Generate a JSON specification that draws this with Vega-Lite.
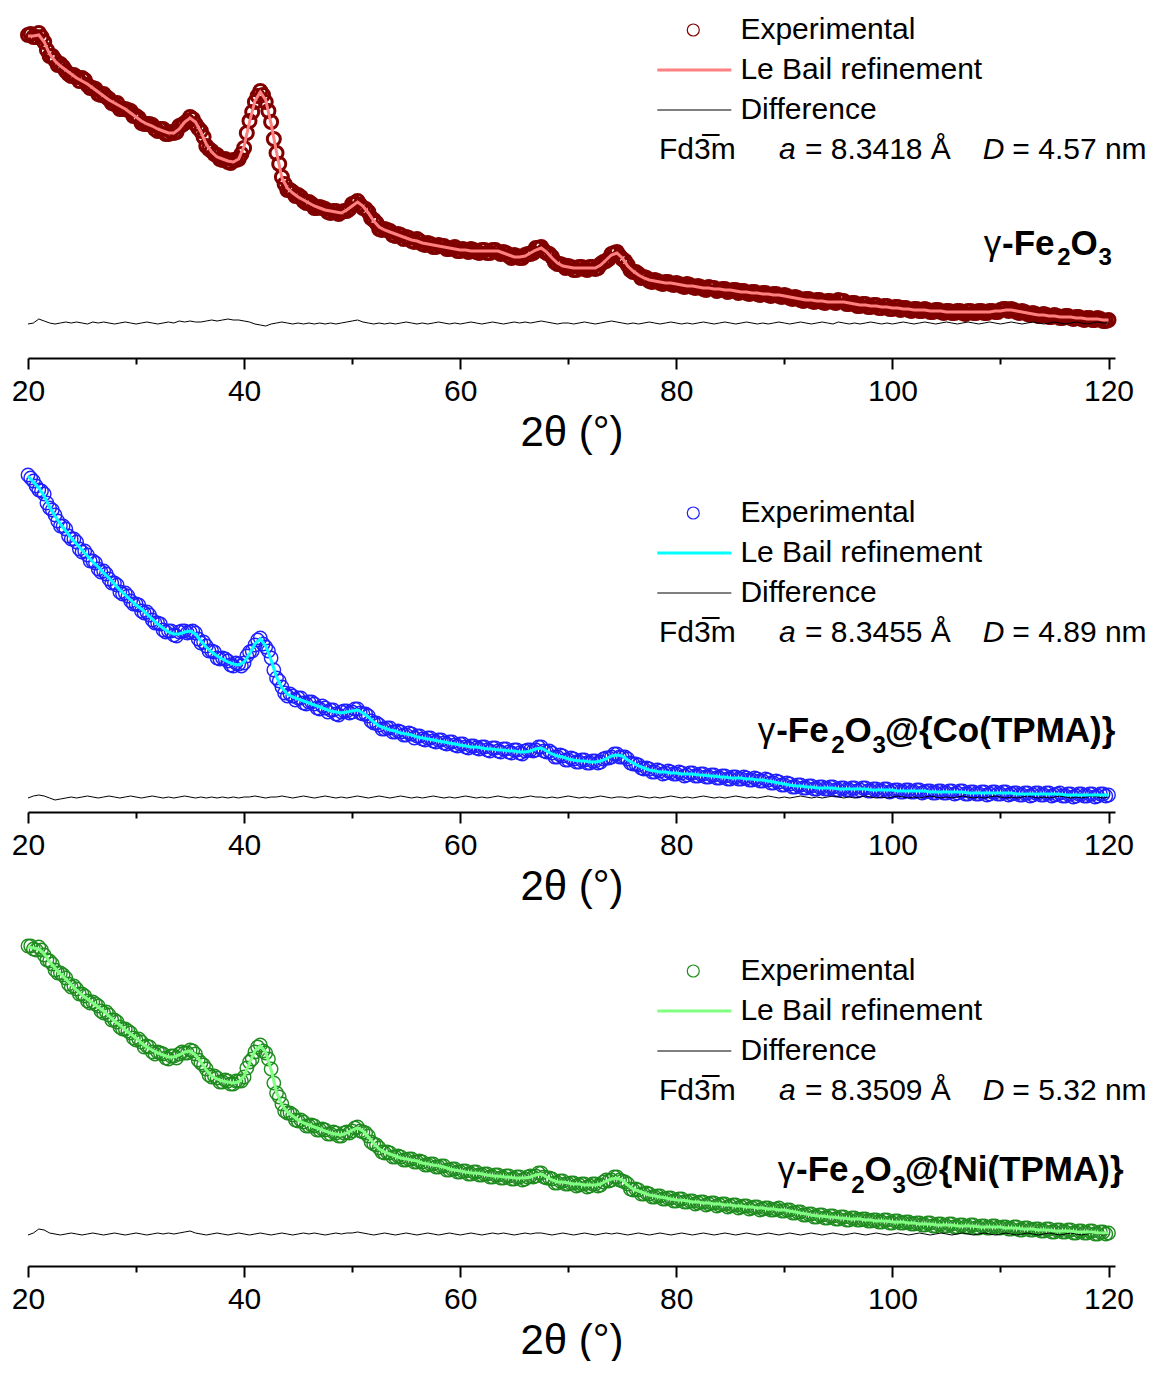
{
"$schema": "https://vega.github.io/schema/vega-lite/v6.json",
"background": "white",
"padding": {"left": 11, "top": 15, "right": 0, "bottom": 0},
"bounds": "flush",
"spacing": 116,
"config": {"view": {"stroke": null}, "font": "Liberation Sans"},
"resolve": {"scale": {"color": "independent", "y": "independent", "strokeWidth": "independent"}},
"datasets": {
"gamma": [
{"x":20,"obs":323,"calc":322,"diff":34},{"x":20.5,"obs":321,"calc":322,"diff":35},{"x":21,"obs":325,"calc":323,"diff":39},{"x":21.5,"obs":316,"calc":316,"diff":37},{"x":22,"obs":302,"calc":304,"diff":35},{"x":22.5,"obs":298,"calc":297,"diff":34},{"x":23,"obs":294,"calc":292,"diff":35},{"x":23.5,"obs":287,"calc":288,"diff":36},{"x":24,"obs":282,"calc":284,"diff":35},{"x":24.5,"obs":281,"calc":280,"diff":36},
{"x":25,"obs":280,"calc":277,"diff":35},{"x":25.5,"obs":273,"calc":274,"diff":34},{"x":26,"obs":270,"calc":270,"diff":36},{"x":26.5,"obs":264,"calc":266,"diff":35},{"x":27,"obs":264,"calc":262,"diff":36},{"x":27.5,"obs":259,"calc":258,"diff":35},{"x":28,"obs":254,"calc":255,"diff":34},{"x":28.5,"obs":249,"calc":252,"diff":35},{"x":29,"obs":249,"calc":249,"diff":36},{"x":29.5,"obs":247,"calc":245,"diff":35},
{"x":30,"obs":242,"calc":241,"diff":34},{"x":30.5,"obs":235,"calc":237,"diff":35},{"x":31,"obs":234,"calc":234,"diff":36},{"x":31.5,"obs":233,"calc":232,"diff":35},{"x":32,"obs":227,"calc":229,"diff":34},{"x":32.5,"obs":229,"calc":227,"diff":35},{"x":33,"obs":224,"calc":225,"diff":36},{"x":33.5,"obs":225,"calc":225,"diff":35},{"x":34,"obs":232,"calc":229,"diff":37},{"x":34.5,"obs":235,"calc":236,"diff":36},
{"x":35,"obs":241,"calc":240,"diff":37},{"x":35.5,"obs":234,"calc":236,"diff":36},{"x":36,"obs":227,"calc":226,"diff":36},{"x":36.5,"obs":212,"calc":214,"diff":37},{"x":37,"obs":207,"calc":206,"diff":38},{"x":37.5,"obs":203,"calc":201,"diff":37},{"x":38,"obs":198,"calc":199,"diff":38},{"x":38.5,"obs":196,"calc":197,"diff":39},{"x":39,"obs":198,"calc":196,"diff":38},{"x":39.5,"obs":199,"calc":199,"diff":38},
{"x":40,"obs":210,"calc":212,"diff":37},{"x":40.5,"obs":237,"calc":236,"diff":36},{"x":41,"obs":256,"calc":257,"diff":34},{"x":41.5,"obs":267,"calc":266,"diff":33},{"x":42,"obs":256,"calc":258,"diff":32},{"x":42.5,"obs":236,"calc":234,"diff":34},{"x":43,"obs":205,"calc":206,"diff":35},{"x":43.5,"obs":181,"calc":180,"diff":36},{"x":44,"obs":168,"calc":170,"diff":35},{"x":44.5,"obs":166,"calc":165,"diff":34},
{"x":45,"obs":163,"calc":161,"diff":35},{"x":45.5,"obs":157,"calc":158,"diff":34},{"x":46,"obs":156,"calc":155,"diff":35},{"x":46.5,"obs":150,"calc":152,"diff":34},{"x":47,"obs":151,"calc":150,"diff":35},{"x":47.5,"obs":149,"calc":148,"diff":34},{"x":48,"obs":145,"calc":147,"diff":35},{"x":48.5,"obs":147,"calc":146,"diff":34},{"x":49,"obs":146,"calc":145,"diff":35},{"x":49.5,"obs":147,"calc":148,"diff":36},
{"x":50,"obs":154,"calc":152,"diff":37},{"x":50.5,"obs":157,"calc":156,"diff":38},{"x":51,"obs":150,"calc":152,"diff":36},{"x":51.5,"obs":146,"calc":145,"diff":35},{"x":52,"obs":138,"calc":137,"diff":34},{"x":52.5,"obs":129,"calc":131,"diff":35},{"x":53,"obs":129,"calc":128,"diff":34},{"x":53.5,"obs":127,"calc":126,"diff":35},{"x":54,"obs":122,"calc":124,"diff":34},{"x":54.5,"obs":123,"calc":122,"diff":35},
{"x":55,"obs":121,"calc":120,"diff":36},{"x":55.5,"obs":117,"calc":118,"diff":35},{"x":56,"obs":119,"calc":117,"diff":34},{"x":56.5,"obs":114,"calc":115,"diff":35},{"x":57,"obs":115,"calc":114,"diff":34},{"x":57.5,"obs":111,"calc":113,"diff":35},{"x":58,"obs":113,"calc":112,"diff":36},{"x":58.5,"obs":112,"calc":111,"diff":35},{"x":59,"obs":109,"calc":110,"diff":34},{"x":59.5,"obs":111,"calc":109,"diff":35},
{"x":60,"obs":107,"calc":108,"diff":34},{"x":60.5,"obs":108,"calc":108,"diff":35},{"x":61,"obs":109,"calc":107,"diff":36},{"x":61.5,"obs":106,"calc":107,"diff":35},{"x":62,"obs":108,"calc":107,"diff":34},{"x":62.5,"obs":105,"calc":107,"diff":35},{"x":63,"obs":108,"calc":107,"diff":36},{"x":63.5,"obs":106,"calc":107,"diff":35},{"x":64,"obs":106,"calc":105,"diff":34},{"x":64.5,"obs":102,"calc":103,"diff":35},
{"x":65,"obs":103,"calc":101,"diff":36},{"x":65.5,"obs":100,"calc":101,"diff":35},{"x":66,"obs":103,"calc":102,"diff":36},{"x":66.5,"obs":104,"calc":105,"diff":35},{"x":67,"obs":110,"calc":108,"diff":36},{"x":67.5,"obs":111,"calc":110,"diff":37},{"x":68,"obs":105,"calc":106,"diff":36},{"x":68.5,"obs":101,"calc":100,"diff":35},{"x":69,"obs":94,"calc":95,"diff":34},{"x":69.5,"obs":93,"calc":92,"diff":35},
{"x":70,"obs":92,"calc":91,"diff":35},{"x":70.5,"obs":88,"calc":90,"diff":34},{"x":71,"obs":91,"calc":90,"diff":35},{"x":71.5,"obs":89,"calc":90,"diff":36},{"x":72,"obs":91,"calc":90,"diff":35},{"x":72.5,"obs":89,"calc":90,"diff":34},{"x":73,"obs":94,"calc":93,"diff":35},{"x":73.5,"obs":97,"calc":98,"diff":36},{"x":74,"obs":104,"calc":103,"diff":37},{"x":74.5,"obs":106,"calc":105,"diff":36},
{"x":75,"obs":99,"calc":100,"diff":35},{"x":75.5,"obs":93,"calc":92,"diff":34},{"x":76,"obs":86,"calc":87,"diff":35},{"x":76.5,"obs":84,"calc":83,"diff":34},{"x":77,"obs":81,"calc":80,"diff":35},{"x":77.5,"obs":77,"calc":78,"diff":36},{"x":78,"obs":78,"calc":77,"diff":35},{"x":78.5,"obs":75,"calc":76,"diff":34},{"x":79,"obs":76,"calc":75,"diff":35},{"x":79.5,"obs":74,"calc":75,"diff":36},
{"x":80,"obs":75,"calc":74,"diff":35},{"x":80.5,"obs":72,"calc":73,"diff":34},{"x":81,"obs":74,"calc":72,"diff":35},{"x":81.5,"obs":71,"calc":72,"diff":34},{"x":82,"obs":72,"calc":71,"diff":35},{"x":82.5,"obs":69,"calc":70,"diff":36},{"x":83,"obs":71,"calc":70,"diff":35},{"x":83.5,"obs":70,"calc":69,"diff":34},{"x":84,"obs":68,"calc":69,"diff":35},{"x":84.5,"obs":69,"calc":68,"diff":36},
{"x":85,"obs":67,"calc":68,"diff":35},{"x":85.5,"obs":68,"calc":67,"diff":34},{"x":86,"obs":67,"calc":66,"diff":35},{"x":86.5,"obs":65,"calc":66,"diff":36},{"x":87,"obs":66,"calc":65,"diff":35},{"x":87.5,"obs":64,"calc":65,"diff":34},{"x":88,"obs":65,"calc":64,"diff":35},{"x":88.5,"obs":63,"calc":64,"diff":34},{"x":89,"obs":64,"calc":63,"diff":35},{"x":89.5,"obs":62,"calc":63,"diff":36},
{"x":90,"obs":63,"calc":62,"diff":35},{"x":90.5,"obs":60,"calc":61,"diff":34},{"x":91,"obs":61,"calc":60,"diff":35},{"x":91.5,"obs":58,"calc":59,"diff":36},{"x":92,"obs":59,"calc":58,"diff":35},{"x":92.5,"obs":57,"calc":58,"diff":34},{"x":93,"obs":58,"calc":57,"diff":35},{"x":93.5,"obs":56,"calc":57,"diff":36},{"x":94,"obs":57,"calc":56,"diff":35},{"x":94.5,"obs":56,"calc":56,"diff":34},
{"x":95,"obs":58,"calc":56,"diff":36},{"x":95.5,"obs":57,"calc":56,"diff":35},{"x":96,"obs":54,"calc":55,"diff":34},{"x":96.5,"obs":55,"calc":54,"diff":35},{"x":97,"obs":52,"calc":53,"diff":34},{"x":97.5,"obs":54,"calc":53,"diff":35},{"x":98,"obs":51,"calc":52,"diff":36},{"x":98.5,"obs":53,"calc":52,"diff":35},{"x":99,"obs":50,"calc":51,"diff":34},{"x":99.5,"obs":52,"calc":51,"diff":35},
{"x":100,"obs":49,"calc":50,"diff":34},{"x":100.5,"obs":51,"calc":50,"diff":35},{"x":101,"obs":50,"calc":49,"diff":36},{"x":101.5,"obs":48,"calc":49,"diff":35},{"x":102,"obs":49,"calc":48,"diff":34},{"x":102.5,"obs":47,"calc":48,"diff":35},{"x":103,"obs":49,"calc":48,"diff":36},{"x":103.5,"obs":46,"calc":47,"diff":35},{"x":104,"obs":48,"calc":47,"diff":34},{"x":104.5,"obs":46,"calc":47,"diff":35},
{"x":105,"obs":47,"calc":46,"diff":36},{"x":105.5,"obs":45,"calc":46,"diff":35},{"x":106,"obs":47,"calc":46,"diff":34},{"x":106.5,"obs":45,"calc":46,"diff":35},{"x":107,"obs":47,"calc":46,"diff":36},{"x":107.5,"obs":45,"calc":46,"diff":35},{"x":108,"obs":47,"calc":46,"diff":34},{"x":108.5,"obs":45,"calc":46,"diff":35},{"x":109,"obs":47,"calc":46,"diff":36},{"x":109.5,"obs":46,"calc":47,"diff":35},
{"x":110,"obs":48,"calc":47,"diff":34},{"x":110.5,"obs":49,"calc":48,"diff":35},{"x":111,"obs":49,"calc":48,"diff":36},{"x":111.5,"obs":46,"calc":47,"diff":35},{"x":112,"obs":47,"calc":46,"diff":34},{"x":112.5,"obs":44,"calc":45,"diff":35},{"x":113,"obs":45,"calc":44,"diff":36},{"x":113.5,"obs":42,"calc":43,"diff":35},{"x":114,"obs":44,"calc":43,"diff":34},{"x":114.5,"obs":41,"calc":42,"diff":35},
{"x":115,"obs":43,"calc":42,"diff":36},{"x":115.5,"obs":40,"calc":41,"diff":35},{"x":116,"obs":42,"calc":41,"diff":34},{"x":116.5,"obs":40,"calc":41,"diff":35},{"x":117,"obs":41,"calc":40,"diff":36},{"x":117.5,"obs":39,"calc":40,"diff":35},{"x":118,"obs":40,"calc":39,"diff":34},{"x":118.5,"obs":38,"calc":39,"diff":35},{"x":119,"obs":40,"calc":39,"diff":36},{"x":119.5,"obs":37,"calc":38,"diff":35},
{"x":120,"obs":38,"calc":38,"diff":35}
],
"gamma_q": [
{"x":20.25,"obs":324},{"x":20.75,"obs":321},{"x":21.25,"obs":321},{"x":21.75,"obs":308},{"x":22.25,"obs":302},{"x":22.75,"obs":293},{"x":23.25,"obs":291},{"x":23.75,"obs":284},{"x":24.25,"obs":283},{"x":24.75,"obs":277},
{"x":25.25,"obs":278},{"x":25.75,"obs":270},{"x":26.25,"obs":269},{"x":26.75,"obs":263},{"x":27.25,"obs":261},{"x":27.75,"obs":255},{"x":28.25,"obs":255},{"x":28.75,"obs":249},{"x":29.25,"obs":248},{"x":29.75,"obs":242},
{"x":30.25,"obs":240},{"x":30.75,"obs":234},{"x":31.25,"obs":234},{"x":31.75,"obs":229},{"x":32.25,"obs":229},{"x":32.75,"obs":224},{"x":33.25,"obs":226},{"x":33.75,"obs":226},{"x":34.25,"obs":233},{"x":34.75,"obs":237},
{"x":35.25,"obs":239},{"x":35.75,"obs":230},{"x":36.25,"obs":221},{"x":36.75,"obs":209},{"x":37.25,"obs":204},{"x":37.75,"obs":199},{"x":38.25,"obs":199},{"x":38.75,"obs":195},{"x":39.25,"obs":198},{"x":39.75,"obs":204},
{"x":40.25,"obs":225},{"x":40.75,"obs":246},{"x":41.25,"obs":262},{"x":41.75,"obs":263},{"x":42.25,"obs":247},{"x":42.75,"obs":219},{"x":43.25,"obs":194},{"x":43.75,"obs":174},{"x":44.25,"obs":168},{"x":44.75,"obs":162},
{"x":45.25,"obs":161},{"x":45.75,"obs":155},{"x":46.25,"obs":154},{"x":46.75,"obs":150},{"x":47.25,"obs":150},{"x":47.75,"obs":146},{"x":48.25,"obs":147},{"x":48.75,"obs":144},{"x":49.25,"obs":147},{"x":49.75,"obs":149},
{"x":50.25,"obs":155},{"x":50.75,"obs":153},{"x":51.25,"obs":149},{"x":51.75,"obs":140},{"x":52.25,"obs":135},{"x":52.75,"obs":128},{"x":53.25,"obs":128},{"x":53.75,"obs":123},{"x":54.25,"obs":124},{"x":54.75,"obs":119},
{"x":55.25,"obs":120},{"x":55.75,"obs":116},{"x":56.25,"obs":117},{"x":56.75,"obs":113},{"x":57.25,"obs":114},{"x":57.75,"obs":111},{"x":58.25,"obs":112},{"x":58.75,"obs":109},{"x":59.25,"obs":110},{"x":59.75,"obs":107},
{"x":60.25,"obs":109},{"x":60.75,"obs":106},{"x":61.25,"obs":108},{"x":61.75,"obs":105},{"x":62.25,"obs":108},{"x":62.75,"obs":105},{"x":63.25,"obs":108},{"x":63.75,"obs":104},{"x":64.25,"obs":105},{"x":64.75,"obs":100},
{"x":65.25,"obs":102},{"x":65.75,"obs":100},{"x":66.25,"obs":104},{"x":66.75,"obs":105},{"x":67.25,"obs":110},{"x":67.75,"obs":107},{"x":68.25,"obs":104},{"x":68.75,"obs":96},{"x":69.25,"obs":94},{"x":69.75,"obs":90},
{"x":70.25,"obs":91},{"x":70.75,"obs":88},{"x":71.25,"obs":91},{"x":71.75,"obs":88},{"x":72.25,"obs":91},{"x":72.75,"obs":90},{"x":73.25,"obs":96},{"x":73.75,"obs":99},{"x":74.25,"obs":105},{"x":74.75,"obs":102},
{"x":75.25,"obs":97},{"x":75.75,"obs":88},{"x":76.25,"obs":86},{"x":76.75,"obs":80},{"x":77.25,"obs":80},{"x":77.75,"obs":76},{"x":78.25,"obs":77},{"x":78.75,"obs":74},{"x":79.25,"obs":76},{"x":79.75,"obs":73},
{"x":80.25,"obs":74},{"x":80.75,"obs":71},{"x":81.25,"obs":73},{"x":81.75,"obs":70},{"x":82.25,"obs":71},{"x":82.75,"obs":68},{"x":83.25,"obs":70},{"x":83.75,"obs":67},{"x":84.25,"obs":69},{"x":84.75,"obs":66},
{"x":85.25,"obs":68},{"x":85.75,"obs":65},{"x":86.25,"obs":67},{"x":86.75,"obs":64},{"x":87.25,"obs":66},{"x":87.75,"obs":63},{"x":88.25,"obs":65},{"x":88.75,"obs":62},{"x":89.25,"obs":64},{"x":89.75,"obs":61},
{"x":90.25,"obs":62},{"x":90.75,"obs":59},{"x":91.25,"obs":60},{"x":91.75,"obs":57},{"x":92.25,"obs":59},{"x":92.75,"obs":56},{"x":93.25,"obs":58},{"x":93.75,"obs":55},{"x":94.25,"obs":57},{"x":94.75,"obs":55},
{"x":95.25,"obs":57},{"x":95.75,"obs":54},{"x":96.25,"obs":55},{"x":96.75,"obs":52},{"x":97.25,"obs":54},{"x":97.75,"obs":51},{"x":98.25,"obs":53},{"x":98.75,"obs":50},{"x":99.25,"obs":52},{"x":99.75,"obs":49},
{"x":100.25,"obs":51},{"x":100.75,"obs":48},{"x":101.25,"obs":50},{"x":101.75,"obs":47},{"x":102.25,"obs":49},{"x":102.75,"obs":47},{"x":103.25,"obs":48},{"x":103.75,"obs":46},{"x":104.25,"obs":48},{"x":104.75,"obs":45},
{"x":105.25,"obs":47},{"x":105.75,"obs":45},{"x":106.25,"obs":47},{"x":106.75,"obs":44},{"x":107.25,"obs":47},{"x":107.75,"obs":45},{"x":108.25,"obs":47},{"x":108.75,"obs":45},{"x":109.25,"obs":47},{"x":109.75,"obs":46},
{"x":110.25,"obs":49},{"x":110.75,"obs":47},{"x":111.25,"obs":48},{"x":111.75,"obs":45},{"x":112.25,"obs":46},{"x":112.75,"obs":43},{"x":113.25,"obs":44},{"x":113.75,"obs":42},{"x":114.25,"obs":43},{"x":114.75,"obs":41},
{"x":115.25,"obs":42},{"x":115.75,"obs":40},{"x":116.25,"obs":42},{"x":116.75,"obs":39},{"x":117.25,"obs":41},{"x":117.75,"obs":38},{"x":118.25,"obs":40},{"x":118.75,"obs":38},{"x":119.25,"obs":39},{"x":119.75,"obs":37}
],
"co": [
{"x":20,"obs":337,"calc":336,"diff":14},{"x":20.5,"obs":331,"calc":330,"diff":16},{"x":21,"obs":322,"calc":324,"diff":17},{"x":21.5,"obs":318,"calc":316,"diff":16},{"x":22,"obs":304,"calc":305,"diff":14},{"x":22.5,"obs":297,"calc":296,"diff":12},{"x":23,"obs":286,"calc":288,"diff":13},{"x":23.5,"obs":283,"calc":281,"diff":14},{"x":24,"obs":273,"calc":274,"diff":15},{"x":24.5,"obs":270,"calc":268,"diff":14},
{"x":25,"obs":260,"calc":262,"diff":15},{"x":25.5,"obs":257,"calc":256,"diff":16},{"x":26,"obs":251,"calc":250,"diff":15},{"x":26.5,"obs":243,"calc":245,"diff":14},{"x":27,"obs":241,"calc":239,"diff":15},{"x":27.5,"obs":233,"calc":234,"diff":16},{"x":28,"obs":229,"calc":228,"diff":15},{"x":28.5,"obs":220,"calc":222,"diff":14},{"x":29,"obs":219,"calc":217,"diff":15},{"x":29.5,"obs":211,"calc":212,"diff":16},
{"x":30,"obs":208,"calc":207,"diff":15},{"x":30.5,"obs":201,"calc":203,"diff":14},{"x":31,"obs":200,"calc":198,"diff":15},{"x":31.5,"obs":192,"calc":193,"diff":16},{"x":32,"obs":189,"calc":188,"diff":15},{"x":32.5,"obs":182,"calc":184,"diff":14},{"x":33,"obs":181,"calc":180,"diff":15},{"x":33.5,"obs":177,"calc":178,"diff":14},{"x":34,"obs":180,"calc":178,"diff":15},{"x":34.5,"obs":181,"calc":180,"diff":16},
{"x":35,"obs":180,"calc":181,"diff":15},{"x":35.5,"obs":179,"calc":178,"diff":14},{"x":36,"obs":169,"calc":171,"diff":15},{"x":36.5,"obs":166,"calc":165,"diff":14},{"x":37,"obs":161,"calc":160,"diff":15},{"x":37.5,"obs":154,"calc":156,"diff":14},{"x":38,"obs":154,"calc":153,"diff":15},{"x":38.5,"obs":151,"calc":150,"diff":14},{"x":39,"obs":146,"calc":148,"diff":15},{"x":39.5,"obs":148,"calc":147,"diff":14},
{"x":40,"obs":149,"calc":150,"diff":15},{"x":40.5,"obs":160,"calc":158,"diff":15},{"x":41,"obs":167,"calc":168,"diff":16},{"x":41.5,"obs":174,"calc":173,"diff":15},{"x":42,"obs":165,"calc":166,"diff":14},{"x":42.5,"obs":154,"calc":152,"diff":15},{"x":43,"obs":134,"calc":135,"diff":15},{"x":43.5,"obs":125,"calc":124,"diff":16},{"x":44,"obs":116,"calc":118,"diff":15},{"x":44.5,"obs":116,"calc":115,"diff":14},
{"x":45,"obs":114,"calc":113,"diff":15},{"x":45.5,"obs":109,"calc":111,"diff":16},{"x":46,"obs":110,"calc":109,"diff":15},{"x":46.5,"obs":108,"calc":107,"diff":14},{"x":47,"obs":103,"calc":105,"diff":15},{"x":47.5,"obs":104,"calc":103,"diff":16},{"x":48,"obs":102,"calc":101,"diff":15},{"x":48.5,"obs":98,"calc":100,"diff":14},{"x":49,"obs":100,"calc":99,"diff":15},{"x":49.5,"obs":101,"calc":100,"diff":14},
{"x":50,"obs":100,"calc":101,"diff":15},{"x":50.5,"obs":103,"calc":102,"diff":16},{"x":51,"obs":98,"calc":99,"diff":15},{"x":51.5,"obs":96,"calc":95,"diff":14},{"x":52,"obs":89,"calc":90,"diff":15},{"x":52.5,"obs":87,"calc":86,"diff":16},{"x":53,"obs":83,"calc":84,"diff":15},{"x":53.5,"obs":84,"calc":82,"diff":14},{"x":54,"obs":80,"calc":81,"diff":15},{"x":54.5,"obs":80,"calc":79,"diff":16},
{"x":55,"obs":77,"calc":78,"diff":15},{"x":55.5,"obs":78,"calc":77,"diff":14},{"x":56,"obs":76,"calc":75,"diff":15},{"x":56.5,"obs":73,"calc":74,"diff":14},{"x":57,"obs":74,"calc":73,"diff":15},{"x":57.5,"obs":71,"calc":72,"diff":16},{"x":58,"obs":72,"calc":71,"diff":15},{"x":58.5,"obs":69,"calc":70,"diff":14},{"x":59,"obs":70,"calc":69,"diff":15},{"x":59.5,"obs":67,"calc":68,"diff":14},
{"x":60,"obs":68,"calc":67,"diff":15},{"x":60.5,"obs":65,"calc":66,"diff":16},{"x":61,"obs":66,"calc":65,"diff":15},{"x":61.5,"obs":64,"calc":65,"diff":14},{"x":62,"obs":65,"calc":64,"diff":15},{"x":62.5,"obs":62,"calc":63,"diff":14},{"x":63,"obs":64,"calc":63,"diff":15},{"x":63.5,"obs":61,"calc":62,"diff":16},{"x":64,"obs":63,"calc":62,"diff":15},{"x":64.5,"obs":60,"calc":61,"diff":14},
{"x":65,"obs":62,"calc":61,"diff":15},{"x":65.5,"obs":59,"calc":60,"diff":14},{"x":66,"obs":61,"calc":60,"diff":15},{"x":66.5,"obs":62,"calc":61,"diff":16},{"x":67,"obs":62,"calc":63,"diff":15},{"x":67.5,"obs":65,"calc":64,"diff":15},{"x":68,"obs":60,"calc":61,"diff":14},{"x":68.5,"obs":59,"calc":58,"diff":15},{"x":69,"obs":55,"calc":56,"diff":14},{"x":69.5,"obs":56,"calc":55,"diff":15},
{"x":70,"obs":52,"calc":53,"diff":16},{"x":70.5,"obs":53,"calc":52,"diff":15},{"x":71,"obs":50,"calc":51,"diff":14},{"x":71.5,"obs":52,"calc":51,"diff":15},{"x":72,"obs":49,"calc":50,"diff":14},{"x":72.5,"obs":51,"calc":50,"diff":15},{"x":73,"obs":50,"calc":51,"diff":16},{"x":73.5,"obs":54,"calc":53,"diff":15},{"x":74,"obs":55,"calc":56,"diff":14},{"x":74.5,"obs":58,"calc":57,"diff":15},
{"x":75,"obs":55,"calc":56,"diff":15},{"x":75.5,"obs":53,"calc":52,"diff":14},{"x":76,"obs":48,"calc":49,"diff":15},{"x":76.5,"obs":47,"calc":46,"diff":16},{"x":77,"obs":43,"calc":44,"diff":15},{"x":77.5,"obs":43,"calc":42,"diff":14},{"x":78,"obs":40,"calc":41,"diff":15},{"x":78.5,"obs":41,"calc":40,"diff":14},{"x":79,"obs":39,"calc":40,"diff":15},{"x":79.5,"obs":40,"calc":39,"diff":16},
{"x":80,"obs":38,"calc":39,"diff":15},{"x":80.5,"obs":39,"calc":38,"diff":14},{"x":81,"obs":37,"calc":38,"diff":15},{"x":81.5,"obs":39,"calc":38,"diff":14},{"x":82,"obs":36,"calc":37,"diff":15},{"x":82.5,"obs":38,"calc":37,"diff":16},{"x":83,"obs":35,"calc":36,"diff":15},{"x":83.5,"obs":37,"calc":36,"diff":14},{"x":84,"obs":34,"calc":35,"diff":15},{"x":84.5,"obs":36,"calc":35,"diff":14},
{"x":85,"obs":33,"calc":34,"diff":15},{"x":85.5,"obs":35,"calc":34,"diff":16},{"x":86,"obs":33,"calc":34,"diff":15},{"x":86.5,"obs":34,"calc":33,"diff":14},{"x":87,"obs":32,"calc":33,"diff":15},{"x":87.5,"obs":33,"calc":32,"diff":14},{"x":88,"obs":31,"calc":32,"diff":15},{"x":88.5,"obs":32,"calc":31,"diff":16},{"x":89,"obs":29,"calc":30,"diff":15},{"x":89.5,"obs":30,"calc":29,"diff":14},
{"x":90,"obs":27,"calc":28,"diff":15},{"x":90.5,"obs":28,"calc":27,"diff":14},{"x":91,"obs":25,"calc":26,"diff":15},{"x":91.5,"obs":27,"calc":26,"diff":16},{"x":92,"obs":24,"calc":25,"diff":15},{"x":92.5,"obs":26,"calc":25,"diff":14},{"x":93,"obs":23,"calc":24,"diff":15},{"x":93.5,"obs":25,"calc":24,"diff":14},{"x":94,"obs":23,"calc":24,"diff":15},{"x":94.5,"obs":25,"calc":24,"diff":16},
{"x":95,"obs":22,"calc":23,"diff":15},{"x":95.5,"obs":24,"calc":23,"diff":14},{"x":96,"obs":22,"calc":23,"diff":15},{"x":96.5,"obs":24,"calc":23,"diff":14},{"x":97,"obs":22,"calc":23,"diff":15},{"x":97.5,"obs":24,"calc":23,"diff":16},{"x":98,"obs":21,"calc":22,"diff":15},{"x":98.5,"obs":23,"calc":22,"diff":14},{"x":99,"obs":21,"calc":22,"diff":15},{"x":99.5,"obs":23,"calc":22,"diff":14},
{"x":100,"obs":21,"calc":22,"diff":15},{"x":100.5,"obs":22,"calc":21,"diff":16},{"x":101,"obs":20,"calc":21,"diff":15},{"x":101.5,"obs":22,"calc":21,"diff":14},{"x":102,"obs":20,"calc":21,"diff":15},{"x":102.5,"obs":22,"calc":21,"diff":14},{"x":103,"obs":20,"calc":21,"diff":15},{"x":103.5,"obs":21,"calc":20,"diff":16},{"x":104,"obs":19,"calc":20,"diff":15},{"x":104.5,"obs":21,"calc":20,"diff":14},
{"x":105,"obs":19,"calc":20,"diff":15},{"x":105.5,"obs":21,"calc":20,"diff":14},{"x":106,"obs":19,"calc":20,"diff":15},{"x":106.5,"obs":21,"calc":20,"diff":16},{"x":107,"obs":18,"calc":19,"diff":15},{"x":107.5,"obs":20,"calc":19,"diff":14},{"x":108,"obs":18,"calc":19,"diff":15},{"x":108.5,"obs":20,"calc":19,"diff":14},{"x":109,"obs":18,"calc":19,"diff":15},{"x":109.5,"obs":20,"calc":19,"diff":16},
{"x":110,"obs":18,"calc":19,"diff":15},{"x":110.5,"obs":20,"calc":19,"diff":14},{"x":111,"obs":18,"calc":19,"diff":15},{"x":111.5,"obs":19,"calc":18,"diff":14},{"x":112,"obs":17,"calc":18,"diff":15},{"x":112.5,"obs":19,"calc":18,"diff":16},{"x":113,"obs":17,"calc":18,"diff":15},{"x":113.5,"obs":19,"calc":18,"diff":14},{"x":114,"obs":17,"calc":18,"diff":15},{"x":114.5,"obs":19,"calc":18,"diff":14},
{"x":115,"obs":17,"calc":18,"diff":15},{"x":115.5,"obs":19,"calc":18,"diff":16},{"x":116,"obs":16,"calc":17,"diff":15},{"x":116.5,"obs":18,"calc":17,"diff":14},{"x":117,"obs":16,"calc":17,"diff":15},{"x":117.5,"obs":18,"calc":17,"diff":14},{"x":118,"obs":16,"calc":17,"diff":15},{"x":118.5,"obs":18,"calc":17,"diff":16},{"x":119,"obs":16,"calc":17,"diff":15},{"x":119.5,"obs":18,"calc":17,"diff":14},
{"x":120,"obs":17,"calc":17,"diff":15}
],
"co_q": [
{"x":20.25,"obs":334},{"x":20.75,"obs":326},{"x":21.25,"obs":321},{"x":21.75,"obs":309},{"x":22.25,"obs":302},{"x":22.75,"obs":291},{"x":23.25,"obs":286},{"x":23.75,"obs":276},{"x":24.25,"obs":273},{"x":24.75,"obs":263},
{"x":25.25,"obs":261},{"x":25.75,"obs":251},{"x":26.25,"obs":249},{"x":26.75,"obs":240},{"x":27.25,"obs":238},{"x":27.75,"obs":229},{"x":28.25,"obs":227},{"x":28.75,"obs":218},{"x":29.25,"obs":216},{"x":29.75,"obs":208},
{"x":30.25,"obs":207},{"x":30.75,"obs":199},{"x":31.25,"obs":197},{"x":31.75,"obs":189},{"x":32.25,"obs":188},{"x":32.75,"obs":180},{"x":33.25,"obs":181},{"x":33.75,"obs":176},{"x":34.25,"obs":181},{"x":34.75,"obs":179},
{"x":35.25,"obs":181},{"x":35.75,"obs":173},{"x":36.25,"obs":170},{"x":36.75,"obs":161},{"x":37.25,"obs":160},{"x":37.75,"obs":153},{"x":38.25,"obs":153},{"x":38.75,"obs":147},{"x":39.25,"obs":149},{"x":39.75,"obs":146},
{"x":40.25,"obs":156},{"x":40.75,"obs":161},{"x":41.25,"obs":172},{"x":41.75,"obs":168},{"x":42.25,"obs":161},{"x":42.75,"obs":142},{"x":43.25,"obs":131},{"x":43.75,"obs":119},{"x":44.25,"obs":118},{"x":44.75,"obs":112},
{"x":45.25,"obs":114},{"x":45.75,"obs":108},{"x":46.25,"obs":110},{"x":46.75,"obs":104},{"x":47.25,"obs":106},{"x":47.75,"obs":100},{"x":48.25,"obs":102},{"x":48.75,"obs":97},{"x":49.25,"obs":101},{"x":49.75,"obs":99},
{"x":50.25,"obs":103},{"x":50.75,"obs":99},{"x":51.25,"obs":98},{"x":51.75,"obs":91},{"x":52.25,"obs":89},{"x":52.75,"obs":83},{"x":53.25,"obs":84},{"x":53.75,"obs":80},{"x":54.25,"obs":81},{"x":54.75,"obs":77},
{"x":55.25,"obs":79},{"x":55.75,"obs":74},{"x":56.25,"obs":76},{"x":56.75,"obs":72},{"x":57.25,"obs":74},{"x":57.75,"obs":70},{"x":58.25,"obs":72},{"x":58.75,"obs":68},{"x":59.25,"obs":70},{"x":59.75,"obs":66},
{"x":60.25,"obs":68},{"x":60.75,"obs":64},{"x":61.25,"obs":66},{"x":61.75,"obs":63},{"x":62.25,"obs":65},{"x":62.75,"obs":61},{"x":63.25,"obs":64},{"x":63.75,"obs":60},{"x":64.25,"obs":63},{"x":64.75,"obs":59},
{"x":65.25,"obs":62},{"x":65.75,"obs":58},{"x":66.25,"obs":62},{"x":66.75,"obs":61},{"x":67.25,"obs":65},{"x":67.75,"obs":61},{"x":68.25,"obs":61},{"x":68.75,"obs":55},{"x":69.25,"obs":57},{"x":69.75,"obs":52},
{"x":70.25,"obs":54},{"x":70.75,"obs":50},{"x":71.25,"obs":52},{"x":71.75,"obs":49},{"x":72.25,"obs":51},{"x":72.75,"obs":49},{"x":73.25,"obs":53},{"x":73.75,"obs":54},{"x":74.25,"obs":58},{"x":74.75,"obs":55},
{"x":75.25,"obs":55},{"x":75.75,"obs":49},{"x":76.25,"obs":48},{"x":76.75,"obs":44},{"x":77.25,"obs":44},{"x":77.75,"obs":40},{"x":78.25,"obs":42},{"x":78.75,"obs":38},{"x":79.25,"obs":41},{"x":79.75,"obs":38},
{"x":80.25,"obs":40},{"x":80.75,"obs":36},{"x":81.25,"obs":39},{"x":81.75,"obs":36},{"x":82.25,"obs":38},{"x":82.75,"obs":35},{"x":83.25,"obs":37},{"x":83.75,"obs":34},{"x":84.25,"obs":36},{"x":84.75,"obs":33},
{"x":85.25,"obs":35},{"x":85.75,"obs":33},{"x":86.25,"obs":35},{"x":86.75,"obs":32},{"x":87.25,"obs":34},{"x":87.75,"obs":31},{"x":88.25,"obs":33},{"x":88.75,"obs":29},{"x":89.25,"obs":31},{"x":89.75,"obs":27},
{"x":90.25,"obs":29},{"x":90.75,"obs":25},{"x":91.25,"obs":27},{"x":91.75,"obs":24},{"x":92.25,"obs":26},{"x":92.75,"obs":23},{"x":93.25,"obs":25},{"x":93.75,"obs":23},{"x":94.25,"obs":25},{"x":94.75,"obs":22},
{"x":95.25,"obs":24},{"x":95.75,"obs":22},{"x":96.25,"obs":24},{"x":96.75,"obs":21},{"x":97.25,"obs":24},{"x":97.75,"obs":21},{"x":98.25,"obs":23},{"x":98.75,"obs":21},{"x":99.25,"obs":23},{"x":99.75,"obs":20},
{"x":100.25,"obs":22},{"x":100.75,"obs":20},{"x":101.25,"obs":22},{"x":101.75,"obs":20},{"x":102.25,"obs":22},{"x":102.75,"obs":19},{"x":103.25,"obs":21},{"x":103.75,"obs":19},{"x":104.25,"obs":21},{"x":104.75,"obs":19},
{"x":105.25,"obs":21},{"x":105.75,"obs":18},{"x":106.25,"obs":21},{"x":106.75,"obs":18},{"x":107.25,"obs":20},{"x":107.75,"obs":18},{"x":108.25,"obs":20},{"x":108.75,"obs":17},{"x":109.25,"obs":20},{"x":109.75,"obs":18},
{"x":110.25,"obs":20},{"x":110.75,"obs":17},{"x":111.25,"obs":19},{"x":111.75,"obs":17},{"x":112.25,"obs":19},{"x":112.75,"obs":16},{"x":113.25,"obs":19},{"x":113.75,"obs":17},{"x":114.25,"obs":19},{"x":114.75,"obs":16},
{"x":115.25,"obs":18},{"x":115.75,"obs":16},{"x":116.25,"obs":18},{"x":116.75,"obs":15},{"x":117.25,"obs":18},{"x":117.75,"obs":16},{"x":118.25,"obs":18},{"x":118.75,"obs":15},{"x":119.25,"obs":18},{"x":119.75,"obs":16}
],
"ni": [
{"x":20,"obs":320,"calc":319,"diff":31},{"x":20.5,"obs":317,"calc":318,"diff":33},{"x":21,"obs":319,"calc":317,"diff":37},{"x":21.5,"obs":311,"calc":312,"diff":36},{"x":22,"obs":305,"calc":304,"diff":33},{"x":22.5,"obs":296,"calc":298,"diff":32},{"x":23,"obs":293,"calc":292,"diff":31},{"x":23.5,"obs":288,"calc":287,"diff":32},{"x":24,"obs":279,"calc":281,"diff":33},{"x":24.5,"obs":277,"calc":276,"diff":32},
{"x":25,"obs":272,"calc":271,"diff":31},{"x":25.5,"obs":265,"calc":267,"diff":32},{"x":26,"obs":264,"calc":263,"diff":33},{"x":26.5,"obs":260,"calc":259,"diff":32},{"x":27,"obs":253,"calc":255,"diff":31},{"x":27.5,"obs":251,"calc":250,"diff":32},{"x":28,"obs":246,"calc":245,"diff":33},{"x":28.5,"obs":239,"calc":241,"diff":32},{"x":29,"obs":237,"calc":236,"diff":31},{"x":29.5,"obs":233,"calc":232,"diff":32},
{"x":30,"obs":226,"calc":228,"diff":33},{"x":30.5,"obs":224,"calc":223,"diff":32},{"x":31,"obs":220,"calc":219,"diff":31},{"x":31.5,"obs":214,"calc":216,"diff":32},{"x":32,"obs":214,"calc":213,"diff":33},{"x":32.5,"obs":212,"calc":211,"diff":32},{"x":33,"obs":207,"calc":209,"diff":33},{"x":33.5,"obs":210,"calc":209,"diff":32},{"x":34,"obs":212,"calc":211,"diff":33},{"x":34.5,"obs":213,"calc":214,"diff":34},
{"x":35,"obs":216,"calc":215,"diff":35},{"x":35.5,"obs":212,"calc":211,"diff":33},{"x":36,"obs":203,"calc":204,"diff":32},{"x":36.5,"obs":197,"calc":196,"diff":31},{"x":37,"obs":189,"calc":190,"diff":32},{"x":37.5,"obs":188,"calc":187,"diff":33},{"x":38,"obs":184,"calc":185,"diff":32},{"x":38.5,"obs":185,"calc":184,"diff":31},{"x":39,"obs":182,"calc":183,"diff":32},{"x":39.5,"obs":185,"calc":184,"diff":33},
{"x":40,"obs":189,"calc":190,"diff":32},{"x":40.5,"obs":204,"calc":203,"diff":31},{"x":41,"obs":214,"calc":215,"diff":32},{"x":41.5,"obs":221,"calc":220,"diff":33},{"x":42,"obs":213,"calc":214,"diff":32},{"x":42.5,"obs":197,"calc":196,"diff":31},{"x":43,"obs":173,"calc":174,"diff":32},{"x":43.5,"obs":162,"calc":161,"diff":33},{"x":44,"obs":153,"calc":154,"diff":32},{"x":44.5,"obs":151,"calc":150,"diff":31},
{"x":45,"obs":145,"calc":146,"diff":32},{"x":45.5,"obs":144,"calc":143,"diff":33},{"x":46,"obs":140,"calc":141,"diff":32},{"x":46.5,"obs":140,"calc":139,"diff":33},{"x":47,"obs":136,"calc":137,"diff":32},{"x":47.5,"obs":136,"calc":135,"diff":31},{"x":48,"obs":132,"calc":133,"diff":32},{"x":48.5,"obs":133,"calc":132,"diff":33},{"x":49,"obs":130,"calc":131,"diff":32},{"x":49.5,"obs":134,"calc":133,"diff":33},
{"x":50,"obs":135,"calc":136,"diff":33},{"x":50.5,"obs":139,"calc":138,"diff":34},{"x":51,"obs":134,"calc":135,"diff":33},{"x":51.5,"obs":130,"calc":129,"diff":32},{"x":52,"obs":122,"calc":123,"diff":31},{"x":52.5,"obs":118,"calc":117,"diff":32},{"x":53,"obs":113,"calc":114,"diff":33},{"x":53.5,"obs":113,"calc":112,"diff":32},{"x":54,"obs":109,"calc":110,"diff":31},{"x":54.5,"obs":109,"calc":108,"diff":32},
{"x":55,"obs":106,"calc":107,"diff":33},{"x":55.5,"obs":107,"calc":106,"diff":32},{"x":56,"obs":104,"calc":105,"diff":31},{"x":56.5,"obs":104,"calc":103,"diff":32},{"x":57,"obs":101,"calc":102,"diff":33},{"x":57.5,"obs":102,"calc":101,"diff":32},{"x":58,"obs":99,"calc":100,"diff":31},{"x":58.5,"obs":100,"calc":99,"diff":32},{"x":59,"obs":96,"calc":97,"diff":33},{"x":59.5,"obs":97,"calc":96,"diff":32},
{"x":60,"obs":94,"calc":95,"diff":31},{"x":60.5,"obs":95,"calc":94,"diff":32},{"x":61,"obs":92,"calc":93,"diff":33},{"x":61.5,"obs":94,"calc":93,"diff":32},{"x":62,"obs":91,"calc":92,"diff":31},{"x":62.5,"obs":92,"calc":91,"diff":32},{"x":63,"obs":89,"calc":90,"diff":33},{"x":63.5,"obs":91,"calc":90,"diff":32},{"x":64,"obs":88,"calc":89,"diff":33},{"x":64.5,"obs":90,"calc":89,"diff":32},
{"x":65,"obs":87,"calc":88,"diff":31},{"x":65.5,"obs":89,"calc":88,"diff":32},{"x":66,"obs":87,"calc":88,"diff":33},{"x":66.5,"obs":90,"calc":89,"diff":32},{"x":67,"obs":90,"calc":91,"diff":33},{"x":67.5,"obs":93,"calc":92,"diff":33},{"x":68,"obs":88,"calc":89,"diff":32},{"x":68.5,"obs":87,"calc":86,"diff":31},{"x":69,"obs":83,"calc":84,"diff":32},{"x":69.5,"obs":85,"calc":84,"diff":33},
{"x":70,"obs":82,"calc":83,"diff":32},{"x":70.5,"obs":83,"calc":82,"diff":31},{"x":71,"obs":81,"calc":82,"diff":32},{"x":71.5,"obs":82,"calc":81,"diff":33},{"x":72,"obs":80,"calc":81,"diff":32},{"x":72.5,"obs":82,"calc":81,"diff":31},{"x":73,"obs":81,"calc":82,"diff":32},{"x":73.5,"obs":86,"calc":85,"diff":33},{"x":74,"obs":86,"calc":87,"diff":32},{"x":74.5,"obs":89,"calc":88,"diff":33},
{"x":75,"obs":85,"calc":86,"diff":32},{"x":75.5,"obs":82,"calc":81,"diff":31},{"x":76,"obs":76,"calc":77,"diff":32},{"x":76.5,"obs":76,"calc":75,"diff":33},{"x":77,"obs":72,"calc":73,"diff":32},{"x":77.5,"obs":72,"calc":71,"diff":31},{"x":78,"obs":69,"calc":70,"diff":32},{"x":78.5,"obs":70,"calc":69,"diff":33},{"x":79,"obs":67,"calc":68,"diff":32},{"x":79.5,"obs":68,"calc":67,"diff":31},
{"x":80,"obs":65,"calc":66,"diff":32},{"x":80.5,"obs":67,"calc":66,"diff":33},{"x":81,"obs":64,"calc":65,"diff":32},{"x":81.5,"obs":65,"calc":64,"diff":31},{"x":82,"obs":63,"calc":64,"diff":32},{"x":82.5,"obs":64,"calc":63,"diff":33},{"x":83,"obs":62,"calc":63,"diff":32},{"x":83.5,"obs":63,"calc":62,"diff":31},{"x":84,"obs":61,"calc":62,"diff":32},{"x":84.5,"obs":62,"calc":61,"diff":33},
{"x":85,"obs":60,"calc":61,"diff":32},{"x":85.5,"obs":61,"calc":60,"diff":31},{"x":86,"obs":59,"calc":60,"diff":32},{"x":86.5,"obs":60,"calc":59,"diff":33},{"x":87,"obs":58,"calc":59,"diff":32},{"x":87.5,"obs":59,"calc":58,"diff":31},{"x":88,"obs":57,"calc":58,"diff":32},{"x":88.5,"obs":58,"calc":57,"diff":33},{"x":89,"obs":56,"calc":57,"diff":32},{"x":89.5,"obs":58,"calc":56,"diff":31},
{"x":90,"obs":55,"calc":56,"diff":32},{"x":90.5,"obs":56,"calc":55,"diff":33},{"x":91,"obs":53,"calc":54,"diff":32},{"x":91.5,"obs":54,"calc":53,"diff":31},{"x":92,"obs":51,"calc":52,"diff":32},{"x":92.5,"obs":52,"calc":51,"diff":33},{"x":93,"obs":49,"calc":50,"diff":32},{"x":93.5,"obs":51,"calc":50,"diff":31},{"x":94,"obs":48,"calc":49,"diff":32},{"x":94.5,"obs":50,"calc":49,"diff":33},
{"x":95,"obs":47,"calc":48,"diff":32},{"x":95.5,"obs":49,"calc":48,"diff":31},{"x":96,"obs":46,"calc":47,"diff":32},{"x":96.5,"obs":48,"calc":47,"diff":33},{"x":97,"obs":46,"calc":47,"diff":32},{"x":97.5,"obs":47,"calc":46,"diff":31},{"x":98,"obs":45,"calc":46,"diff":32},{"x":98.5,"obs":46,"calc":45,"diff":33},{"x":99,"obs":44,"calc":45,"diff":32},{"x":99.5,"obs":46,"calc":45,"diff":31},
{"x":100,"obs":43,"calc":44,"diff":32},{"x":100.5,"obs":45,"calc":44,"diff":33},{"x":101,"obs":43,"calc":44,"diff":32},{"x":101.5,"obs":44,"calc":43,"diff":31},{"x":102,"obs":42,"calc":43,"diff":32},{"x":102.5,"obs":43,"calc":42,"diff":33},{"x":103,"obs":41,"calc":42,"diff":32},{"x":103.5,"obs":43,"calc":42,"diff":31},{"x":104,"obs":40,"calc":41,"diff":32},{"x":104.5,"obs":42,"calc":41,"diff":33},
{"x":105,"obs":40,"calc":41,"diff":32},{"x":105.5,"obs":42,"calc":41,"diff":31},{"x":106,"obs":39,"calc":40,"diff":32},{"x":106.5,"obs":41,"calc":40,"diff":33},{"x":107,"obs":39,"calc":40,"diff":32},{"x":107.5,"obs":41,"calc":40,"diff":31},{"x":108,"obs":38,"calc":39,"diff":32},{"x":108.5,"obs":40,"calc":39,"diff":33},{"x":109,"obs":38,"calc":39,"diff":32},{"x":109.5,"obs":40,"calc":39,"diff":31},
{"x":110,"obs":38,"calc":39,"diff":32},{"x":110.5,"obs":39,"calc":38,"diff":33},{"x":111,"obs":37,"calc":38,"diff":32},{"x":111.5,"obs":39,"calc":38,"diff":31},{"x":112,"obs":36,"calc":37,"diff":32},{"x":112.5,"obs":38,"calc":37,"diff":33},{"x":113,"obs":36,"calc":37,"diff":32},{"x":113.5,"obs":37,"calc":36,"diff":31},{"x":114,"obs":35,"calc":36,"diff":32},{"x":114.5,"obs":37,"calc":36,"diff":33},
{"x":115,"obs":34,"calc":35,"diff":32},{"x":115.5,"obs":36,"calc":35,"diff":31},{"x":116,"obs":34,"calc":35,"diff":32},{"x":116.5,"obs":36,"calc":35,"diff":33},{"x":117,"obs":33,"calc":34,"diff":32},{"x":117.5,"obs":35,"calc":34,"diff":31},{"x":118,"obs":33,"calc":34,"diff":32},{"x":118.5,"obs":35,"calc":34,"diff":33},{"x":119,"obs":32,"calc":33,"diff":32},{"x":119.5,"obs":34,"calc":33,"diff":31},
{"x":120,"obs":33,"calc":33,"diff":32}
],
"ni_q": [
{"x":20.25,"obs":320},{"x":20.75,"obs":316},{"x":21.25,"obs":316},{"x":21.75,"obs":306},{"x":22.25,"obs":302},{"x":22.75,"obs":293},{"x":23.25,"obs":291},{"x":23.75,"obs":282},{"x":24.25,"obs":280},{"x":24.75,"obs":272},
{"x":25.25,"obs":270},{"x":25.75,"obs":263},{"x":26.25,"obs":262},{"x":26.75,"obs":255},{"x":27.25,"obs":254},{"x":27.75,"obs":246},{"x":28.25,"obs":244},{"x":28.75,"obs":237},{"x":29.25,"obs":235},{"x":29.75,"obs":228},
{"x":30.25,"obs":227},{"x":30.75,"obs":219},{"x":31.25,"obs":219},{"x":31.75,"obs":212},{"x":32.25,"obs":213},{"x":32.75,"obs":208},{"x":33.25,"obs":210},{"x":33.75,"obs":208},{"x":34.25,"obs":214},{"x":34.75,"obs":213},
{"x":35.25,"obs":215},{"x":35.75,"obs":206},{"x":36.25,"obs":201},{"x":36.75,"obs":191},{"x":37.25,"obs":190},{"x":37.75,"obs":184},{"x":38.25,"obs":186},{"x":38.75,"obs":182},{"x":39.25,"obs":185},{"x":39.75,"obs":185},
{"x":40.25,"obs":198},{"x":40.75,"obs":207},{"x":41.25,"obs":219},{"x":41.75,"obs":215},{"x":42.25,"obs":207},{"x":42.75,"obs":183},{"x":43.25,"obs":169},{"x":43.75,"obs":155},{"x":44.25,"obs":153},{"x":44.75,"obs":146},
{"x":45.25,"obs":146},{"x":45.75,"obs":140},{"x":46.25,"obs":141},{"x":46.75,"obs":136},{"x":47.25,"obs":137},{"x":47.75,"obs":132},{"x":48.25,"obs":134},{"x":48.75,"obs":130},{"x":49.25,"obs":133},{"x":49.75,"obs":133},
{"x":50.25,"obs":138},{"x":50.75,"obs":135},{"x":51.25,"obs":133},{"x":51.75,"obs":124},{"x":52.25,"obs":121},{"x":52.75,"obs":114},{"x":53.25,"obs":114},{"x":53.75,"obs":109},{"x":54.25,"obs":110},{"x":54.75,"obs":106},
{"x":55.25,"obs":107},{"x":55.75,"obs":104},{"x":56.25,"obs":105},{"x":56.75,"obs":101},{"x":57.25,"obs":102},{"x":57.75,"obs":99},{"x":58.25,"obs":100},{"x":58.75,"obs":96},{"x":59.25,"obs":97},{"x":59.75,"obs":94},
{"x":60.25,"obs":95},{"x":60.75,"obs":92},{"x":61.25,"obs":94},{"x":61.75,"obs":91},{"x":62.25,"obs":92},{"x":62.75,"obs":89},{"x":63.25,"obs":91},{"x":63.75,"obs":88},{"x":64.25,"obs":90},{"x":64.75,"obs":87},
{"x":65.25,"obs":89},{"x":65.75,"obs":86},{"x":66.25,"obs":89},{"x":66.75,"obs":89},{"x":67.25,"obs":93},{"x":67.75,"obs":89},{"x":68.25,"obs":88},{"x":68.75,"obs":83},{"x":69.25,"obs":85},{"x":69.75,"obs":82},
{"x":70.25,"obs":83},{"x":70.75,"obs":80},{"x":71.25,"obs":82},{"x":71.75,"obs":79},{"x":72.25,"obs":82},{"x":72.75,"obs":80},{"x":73.25,"obs":84},{"x":73.75,"obs":85},{"x":74.25,"obs":89},{"x":74.75,"obs":86},
{"x":75.25,"obs":84},{"x":75.75,"obs":77},{"x":76.25,"obs":77},{"x":76.75,"obs":72},{"x":77.25,"obs":73},{"x":77.75,"obs":69},{"x":78.25,"obs":70},{"x":78.75,"obs":67},{"x":79.25,"obs":68},{"x":79.75,"obs":65},
{"x":80.25,"obs":67},{"x":80.75,"obs":64},{"x":81.25,"obs":65},{"x":81.75,"obs":62},{"x":82.25,"obs":64},{"x":82.75,"obs":61},{"x":83.25,"obs":63},{"x":83.75,"obs":60},{"x":84.25,"obs":62},{"x":84.75,"obs":59},
{"x":85.25,"obs":61},{"x":85.75,"obs":58},{"x":86.25,"obs":60},{"x":86.75,"obs":57},{"x":87.25,"obs":59},{"x":87.75,"obs":56},{"x":88.25,"obs":58},{"x":88.75,"obs":56},{"x":89.25,"obs":57},{"x":89.75,"obs":55},
{"x":90.25,"obs":56},{"x":90.75,"obs":53},{"x":91.25,"obs":54},{"x":91.75,"obs":51},{"x":92.25,"obs":52},{"x":92.75,"obs":49},{"x":93.25,"obs":51},{"x":93.75,"obs":48},{"x":94.25,"obs":50},{"x":94.75,"obs":47},
{"x":95.25,"obs":49},{"x":95.75,"obs":46},{"x":96.25,"obs":48},{"x":96.75,"obs":46},{"x":97.25,"obs":47},{"x":97.75,"obs":45},{"x":98.25,"obs":46},{"x":98.75,"obs":44},{"x":99.25,"obs":46},{"x":99.75,"obs":43},
{"x":100.25,"obs":45},{"x":100.75,"obs":43},{"x":101.25,"obs":44},{"x":101.75,"obs":42},{"x":102.25,"obs":43},{"x":102.75,"obs":41},{"x":103.25,"obs":43},{"x":103.75,"obs":40},{"x":104.25,"obs":42},{"x":104.75,"obs":40},
{"x":105.25,"obs":42},{"x":105.75,"obs":39},{"x":106.25,"obs":41},{"x":106.75,"obs":39},{"x":107.25,"obs":41},{"x":107.75,"obs":38},{"x":108.25,"obs":40},{"x":108.75,"obs":38},{"x":109.25,"obs":40},{"x":109.75,"obs":38},
{"x":110.25,"obs":39},{"x":110.75,"obs":37},{"x":111.25,"obs":39},{"x":111.75,"obs":36},{"x":112.25,"obs":38},{"x":112.75,"obs":36},{"x":113.25,"obs":37},{"x":113.75,"obs":35},{"x":114.25,"obs":37},{"x":114.75,"obs":34},
{"x":115.25,"obs":36},{"x":115.75,"obs":34},{"x":116.25,"obs":36},{"x":116.75,"obs":33},{"x":117.25,"obs":35},{"x":117.75,"obs":33},{"x":118.25,"obs":35},{"x":118.75,"obs":32},{"x":119.25,"obs":34},{"x":119.75,"obs":32}
],
"key": [
{"panel":1,"series":"Experimental","x":81.57,"y":328},
{"panel":1,"series":"Le Bail refinement","x":78.24,"x2":85.09,"y":288},
{"panel":1,"series":"Difference","x":78.24,"x2":85.09,"y":248},
{"panel":2,"series":"Experimental","x":81.57,"y":299},
{"panel":2,"series":"Le Bail refinement","x":78.24,"x2":85.09,"y":259},
{"panel":2,"series":"Difference","x":78.24,"x2":85.09,"y":219},
{"panel":3,"series":"Experimental","x":81.57,"y":295},
{"panel":3,"series":"Le Bail refinement","x":78.24,"x2":85.09,"y":255},
{"panel":3,"series":"Difference","x":78.24,"x2":85.09,"y":215}
],
"labels": [
{"panel":1,"role":"plain","text":"Experimental","x":85.93,"y":328},
{"panel":1,"role":"plain","text":"Le Bail refinement","x":85.93,"y":288},
{"panel":1,"role":"plain","text":"Difference","x":85.93,"y":248},
{"panel":1,"role":"plain","text":"Fd3\u0305m","x":78.4,"y":208},
{"panel":1,"role":"italic","text":"a","x":89.5,"y":208},
{"panel":1,"role":"plain","text":"= 8.3418 Å","x":91.9,"y":208},
{"panel":1,"role":"italic","text":"D","x":108.35,"y":208},
{"panel":1,"role":"plain","text":"= 4.57 nm","x":111.1,"y":208},
{"panel":1,"role":"gamma","text":"γ","x":108.45,"y":114},
{"panel":1,"role":"bold","text":"-Fe","x":110.15,"y":114},
{"panel":1,"role":"sub","text":"2","x":115.25,"y":100},
{"panel":1,"role":"bold","text":"O","x":116.48,"y":114},
{"panel":1,"role":"sub","text":"3","x":119.07,"y":100},
{"panel":2,"role":"plain","text":"Experimental","x":85.93,"y":299},
{"panel":2,"role":"plain","text":"Le Bail refinement","x":85.93,"y":259},
{"panel":2,"role":"plain","text":"Difference","x":85.93,"y":219},
{"panel":2,"role":"plain","text":"Fd3\u0305m","x":78.4,"y":179},
{"panel":2,"role":"italic","text":"a","x":89.5,"y":179},
{"panel":2,"role":"plain","text":"= 8.3455 Å","x":91.9,"y":179},
{"panel":2,"role":"italic","text":"D","x":108.35,"y":179},
{"panel":2,"role":"plain","text":"= 4.89 nm","x":111.1,"y":179},
{"panel":2,"role":"gamma","text":"γ","x":87.54,"y":81},
{"panel":2,"role":"bold","text":"-Fe","x":89.24,"y":81},
{"panel":2,"role":"sub","text":"2","x":94.34,"y":66},
{"panel":2,"role":"bold","text":"O","x":95.57,"y":81},
{"panel":2,"role":"sub","text":"3","x":98.16,"y":66},
{"panel":2,"role":"bold","text":"@{Co(TPMA)}","x":99.3,"y":81},
{"panel":3,"role":"plain","text":"Experimental","x":85.93,"y":295},
{"panel":3,"role":"plain","text":"Le Bail refinement","x":85.93,"y":255},
{"panel":3,"role":"plain","text":"Difference","x":85.93,"y":215},
{"panel":3,"role":"plain","text":"Fd3\u0305m","x":78.4,"y":175},
{"panel":3,"role":"italic","text":"a","x":89.5,"y":175},
{"panel":3,"role":"plain","text":"= 8.3509 Å","x":91.9,"y":175},
{"panel":3,"role":"italic","text":"D","x":108.35,"y":175},
{"panel":3,"role":"plain","text":"= 5.32 nm","x":111.1,"y":175},
{"panel":3,"role":"gamma","text":"γ","x":89.38,"y":96},
{"panel":3,"role":"bold","text":"-Fe","x":91.08,"y":96},
{"panel":3,"role":"sub","text":"2","x":96.18,"y":80},
{"panel":3,"role":"bold","text":"O","x":97.41,"y":96},
{"panel":3,"role":"sub","text":"3","x":100.0,"y":80},
{"panel":3,"role":"bold","text":"@{Ni(TPMA)}","x":101.14,"y":96}
]
},
"vconcat": [
{
"width": 1087, "height": 338,
"encoding": {"x": {"field": "x", "type": "quantitative", "scale": {"domain": [20, 120.6], "nice": false, "zero": false},
 "axis": {"values": [20,30,40,50,60,70,80,90,100,110,120], "labelExpr": "datum.value % 20 === 0 ? datum.label : ''", "tickSize": {"condition": {"test": "datum.value % 20 === 0", "value": 11}, "value": 6}, "tickWidth": 2, "domainWidth": 2, "domainColor": "black", "tickColor": "black", "labelFontSize": 30, "labelFont": "Liberation Sans", "labelColor": "black", "labelPadding": 7, "labelFlush": false, "labelOverlap": false, "title": "2θ (°)", "titleFontSize": 42, "titleFontWeight": "normal", "titleFont": "Liberation Sans", "titleColor": "black", "titlePadding": 6, "grid": false}}},
"layer": [
{"data": {"name": "gamma"}, "mark": {"type": "point", "filled": false, "size": 170, "strokeWidth": 3, "opacity": 1},
 "encoding": {"y": {"field": "obs", "type": "quantitative", "scale": {"domain": [0, 338], "nice": false}, "axis": null},
  "color": {"datum": "Experimental", "type": "nominal", "scale": {"domain": ["Experimental", "Le Bail refinement", "Difference"], "range": ["#800000", "#FF8080", "#000000"]}, "legend": null}}},
{"data": {"name": "gamma_q"}, "mark": {"type": "point", "filled": false, "size": 170, "strokeWidth": 3, "opacity": 1},
 "encoding": {"y": {"field": "obs", "type": "quantitative", "axis": null}, "color": {"datum": "Experimental", "type": "nominal", "legend": null}}},
{"data": {"name": "gamma"}, "mark": {"type": "line", "strokeWidth": 1},
 "encoding": {"y": {"field": "diff", "type": "quantitative", "axis": null}, "color": {"datum": "Difference", "type": "nominal", "legend": null}}},
{"data": {"name": "gamma"}, "mark": {"type": "line", "strokeWidth": 3},
 "encoding": {"y": {"field": "calc", "type": "quantitative", "axis": null}, "color": {"datum": "Le Bail refinement", "type": "nominal", "legend": null}}},
{"data": {"name": "key"}, "transform": [{"filter": "datum.panel === 1 && datum.series === 'Experimental'"}], "mark": {"type": "point", "filled": false, "size": 144, "strokeWidth": 1.2, "opacity": 1},
 "encoding": {"y": {"field": "y", "type": "quantitative", "axis": null}, "color": {"field": "series", "type": "nominal", "legend": null}}},
{"data": {"name": "key"}, "transform": [{"filter": "datum.panel === 1 && datum.series !== 'Experimental'"}], "mark": {"type": "rule"},
 "encoding": {"x2": {"field": "x2"}, "y": {"field": "y", "type": "quantitative", "axis": null}, "color": {"field": "series", "type": "nominal", "legend": null}, "strokeWidth": {"field": "series", "type": "nominal", "scale": {"domain": ["Le Bail refinement", "Difference"], "range": [3, 1.2]}, "legend": null}}},
{"data": {"name": "labels"}, "transform": [{"filter": "datum.panel === 1 && datum.role === 'plain'"}], "mark": {"type": "text", "align": "left", "baseline": "middle", "font": "Liberation Sans", "fontSize": 30, "color": "black"}, "encoding": {"y": {"field": "y", "type": "quantitative", "axis": null}, "text": {"field": "text"}}},
{"data": {"name": "labels"}, "transform": [{"filter": "datum.panel === 1 && datum.role === 'italic'"}], "mark": {"type": "text", "align": "left", "baseline": "middle", "font": "Liberation Sans", "fontSize": 30, "fontStyle": "italic", "color": "black"}, "encoding": {"y": {"field": "y", "type": "quantitative", "axis": null}, "text": {"field": "text"}}},
{"data": {"name": "labels"}, "transform": [{"filter": "datum.panel === 1 && datum.role === 'gamma'"}], "mark": {"type": "text", "align": "left", "baseline": "middle", "font": "Liberation Sans", "fontSize": 35, "color": "black"}, "encoding": {"y": {"field": "y", "type": "quantitative", "axis": null}, "text": {"field": "text"}}},
{"data": {"name": "labels"}, "transform": [{"filter": "datum.panel === 1 && datum.role === 'bold'"}], "mark": {"type": "text", "align": "left", "baseline": "middle", "font": "Liberation Sans", "fontSize": 35, "fontWeight": "bold", "color": "black"}, "encoding": {"y": {"field": "y", "type": "quantitative", "axis": null}, "text": {"field": "text"}}},
{"data": {"name": "labels"}, "transform": [{"filter": "datum.panel === 1 && datum.role === 'sub'"}], "mark": {"type": "text", "align": "left", "baseline": "middle", "font": "Liberation Sans", "fontSize": 24, "fontWeight": "bold", "color": "black"}, "encoding": {"y": {"field": "y", "type": "quantitative", "axis": null}, "text": {"field": "text"}}}
]
},
{
"width": 1087, "height": 338,
"encoding": {"x": {"field": "x", "type": "quantitative", "scale": {"domain": [20, 120.6], "nice": false, "zero": false},
 "axis": {"values": [20,30,40,50,60,70,80,90,100,110,120], "labelExpr": "datum.value % 20 === 0 ? datum.label : ''", "tickSize": {"condition": {"test": "datum.value % 20 === 0", "value": 11}, "value": 6}, "tickWidth": 2, "domainWidth": 2, "domainColor": "black", "tickColor": "black", "labelFontSize": 30, "labelFont": "Liberation Sans", "labelColor": "black", "labelPadding": 7, "labelFlush": false, "labelOverlap": false, "title": "2θ (°)", "titleFontSize": 42, "titleFontWeight": "normal", "titleFont": "Liberation Sans", "titleColor": "black", "titlePadding": 6, "grid": false}}},
"layer": [
{"data": {"name": "co"}, "mark": {"type": "point", "filled": false, "size": 180, "strokeWidth": 1.4, "opacity": 1},
 "encoding": {"y": {"field": "obs", "type": "quantitative", "scale": {"domain": [0, 338], "nice": false}, "axis": null},
  "color": {"datum": "Experimental", "type": "nominal", "scale": {"domain": ["Experimental", "Le Bail refinement", "Difference"], "range": ["#1F1FFF", "#00FFFF", "#000000"]}, "legend": null}}},
{"data": {"name": "co_q"}, "mark": {"type": "point", "filled": false, "size": 180, "strokeWidth": 1.4, "opacity": 1},
 "encoding": {"y": {"field": "obs", "type": "quantitative", "axis": null}, "color": {"datum": "Experimental", "type": "nominal", "legend": null}}},
{"data": {"name": "co"}, "mark": {"type": "line", "strokeWidth": 1},
 "encoding": {"y": {"field": "diff", "type": "quantitative", "axis": null}, "color": {"datum": "Difference", "type": "nominal", "legend": null}}},
{"data": {"name": "co"}, "mark": {"type": "line", "strokeWidth": 3},
 "encoding": {"y": {"field": "calc", "type": "quantitative", "axis": null}, "color": {"datum": "Le Bail refinement", "type": "nominal", "legend": null}}},
{"data": {"name": "key"}, "transform": [{"filter": "datum.panel === 2 && datum.series === 'Experimental'"}], "mark": {"type": "point", "filled": false, "size": 144, "strokeWidth": 1.2, "opacity": 1},
 "encoding": {"y": {"field": "y", "type": "quantitative", "axis": null}, "color": {"field": "series", "type": "nominal", "legend": null}}},
{"data": {"name": "key"}, "transform": [{"filter": "datum.panel === 2 && datum.series !== 'Experimental'"}], "mark": {"type": "rule"},
 "encoding": {"x2": {"field": "x2"}, "y": {"field": "y", "type": "quantitative", "axis": null}, "color": {"field": "series", "type": "nominal", "legend": null}, "strokeWidth": {"field": "series", "type": "nominal", "scale": {"domain": ["Le Bail refinement", "Difference"], "range": [3, 1.2]}, "legend": null}}},
{"data": {"name": "labels"}, "transform": [{"filter": "datum.panel === 2 && datum.role === 'plain'"}], "mark": {"type": "text", "align": "left", "baseline": "middle", "font": "Liberation Sans", "fontSize": 30, "color": "black"}, "encoding": {"y": {"field": "y", "type": "quantitative", "axis": null}, "text": {"field": "text"}}},
{"data": {"name": "labels"}, "transform": [{"filter": "datum.panel === 2 && datum.role === 'italic'"}], "mark": {"type": "text", "align": "left", "baseline": "middle", "font": "Liberation Sans", "fontSize": 30, "fontStyle": "italic", "color": "black"}, "encoding": {"y": {"field": "y", "type": "quantitative", "axis": null}, "text": {"field": "text"}}},
{"data": {"name": "labels"}, "transform": [{"filter": "datum.panel === 2 && datum.role === 'gamma'"}], "mark": {"type": "text", "align": "left", "baseline": "middle", "font": "Liberation Sans", "fontSize": 35, "color": "black"}, "encoding": {"y": {"field": "y", "type": "quantitative", "axis": null}, "text": {"field": "text"}}},
{"data": {"name": "labels"}, "transform": [{"filter": "datum.panel === 2 && datum.role === 'bold'"}], "mark": {"type": "text", "align": "left", "baseline": "middle", "font": "Liberation Sans", "fontSize": 35, "fontWeight": "bold", "color": "black"}, "encoding": {"y": {"field": "y", "type": "quantitative", "axis": null}, "text": {"field": "text"}}},
{"data": {"name": "labels"}, "transform": [{"filter": "datum.panel === 2 && datum.role === 'sub'"}], "mark": {"type": "text", "align": "left", "baseline": "middle", "font": "Liberation Sans", "fontSize": 24, "fontWeight": "bold", "color": "black"}, "encoding": {"y": {"field": "y", "type": "quantitative", "axis": null}, "text": {"field": "text"}}}
]
},
{
"width": 1087, "height": 338,
"encoding": {"x": {"field": "x", "type": "quantitative", "scale": {"domain": [20, 120.6], "nice": false, "zero": false},
 "axis": {"values": [20,30,40,50,60,70,80,90,100,110,120], "labelExpr": "datum.value % 20 === 0 ? datum.label : ''", "tickSize": {"condition": {"test": "datum.value % 20 === 0", "value": 11}, "value": 6}, "tickWidth": 2, "domainWidth": 2, "domainColor": "black", "tickColor": "black", "labelFontSize": 30, "labelFont": "Liberation Sans", "labelColor": "black", "labelPadding": 7, "labelFlush": false, "labelOverlap": false, "title": "2θ (°)", "titleFontSize": 42, "titleFontWeight": "normal", "titleFont": "Liberation Sans", "titleColor": "black", "titlePadding": 6, "grid": false}}},
"layer": [
{"data": {"name": "ni"}, "mark": {"type": "point", "filled": false, "size": 180, "strokeWidth": 1.4, "opacity": 1},
 "encoding": {"y": {"field": "obs", "type": "quantitative", "scale": {"domain": [0, 338], "nice": false}, "axis": null},
  "color": {"datum": "Experimental", "type": "nominal", "scale": {"domain": ["Experimental", "Le Bail refinement", "Difference"], "range": ["#1E8C1E", "#80FF80", "#000000"]}, "legend": null}}},
{"data": {"name": "ni_q"}, "mark": {"type": "point", "filled": false, "size": 180, "strokeWidth": 1.4, "opacity": 1},
 "encoding": {"y": {"field": "obs", "type": "quantitative", "axis": null}, "color": {"datum": "Experimental", "type": "nominal", "legend": null}}},
{"data": {"name": "ni"}, "mark": {"type": "line", "strokeWidth": 1},
 "encoding": {"y": {"field": "diff", "type": "quantitative", "axis": null}, "color": {"datum": "Difference", "type": "nominal", "legend": null}}},
{"data": {"name": "ni"}, "mark": {"type": "line", "strokeWidth": 3},
 "encoding": {"y": {"field": "calc", "type": "quantitative", "axis": null}, "color": {"datum": "Le Bail refinement", "type": "nominal", "legend": null}}},
{"data": {"name": "key"}, "transform": [{"filter": "datum.panel === 3 && datum.series === 'Experimental'"}], "mark": {"type": "point", "filled": false, "size": 144, "strokeWidth": 1.2, "opacity": 1},
 "encoding": {"y": {"field": "y", "type": "quantitative", "axis": null}, "color": {"field": "series", "type": "nominal", "legend": null}}},
{"data": {"name": "key"}, "transform": [{"filter": "datum.panel === 3 && datum.series !== 'Experimental'"}], "mark": {"type": "rule"},
 "encoding": {"x2": {"field": "x2"}, "y": {"field": "y", "type": "quantitative", "axis": null}, "color": {"field": "series", "type": "nominal", "legend": null}, "strokeWidth": {"field": "series", "type": "nominal", "scale": {"domain": ["Le Bail refinement", "Difference"], "range": [3, 1.2]}, "legend": null}}},
{"data": {"name": "labels"}, "transform": [{"filter": "datum.panel === 3 && datum.role === 'plain'"}], "mark": {"type": "text", "align": "left", "baseline": "middle", "font": "Liberation Sans", "fontSize": 30, "color": "black"}, "encoding": {"y": {"field": "y", "type": "quantitative", "axis": null}, "text": {"field": "text"}}},
{"data": {"name": "labels"}, "transform": [{"filter": "datum.panel === 3 && datum.role === 'italic'"}], "mark": {"type": "text", "align": "left", "baseline": "middle", "font": "Liberation Sans", "fontSize": 30, "fontStyle": "italic", "color": "black"}, "encoding": {"y": {"field": "y", "type": "quantitative", "axis": null}, "text": {"field": "text"}}},
{"data": {"name": "labels"}, "transform": [{"filter": "datum.panel === 3 && datum.role === 'gamma'"}], "mark": {"type": "text", "align": "left", "baseline": "middle", "font": "Liberation Sans", "fontSize": 35, "color": "black"}, "encoding": {"y": {"field": "y", "type": "quantitative", "axis": null}, "text": {"field": "text"}}},
{"data": {"name": "labels"}, "transform": [{"filter": "datum.panel === 3 && datum.role === 'bold'"}], "mark": {"type": "text", "align": "left", "baseline": "middle", "font": "Liberation Sans", "fontSize": 35, "fontWeight": "bold", "color": "black"}, "encoding": {"y": {"field": "y", "type": "quantitative", "axis": null}, "text": {"field": "text"}}},
{"data": {"name": "labels"}, "transform": [{"filter": "datum.panel === 3 && datum.role === 'sub'"}], "mark": {"type": "text", "align": "left", "baseline": "middle", "font": "Liberation Sans", "fontSize": 24, "fontWeight": "bold", "color": "black"}, "encoding": {"y": {"field": "y", "type": "quantitative", "axis": null}, "text": {"field": "text"}}}
]
}
]
}
